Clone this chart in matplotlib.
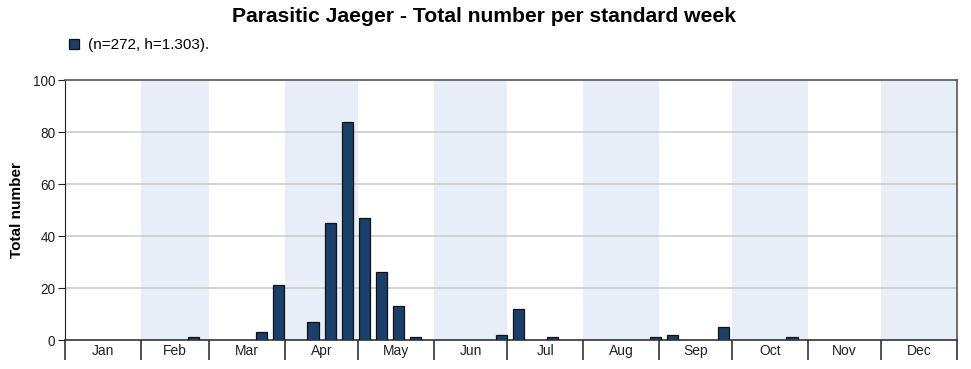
import matplotlib
matplotlib.use("Agg")
import matplotlib.pyplot as plt
import numpy as np

plt.rcParams['font.family'] = ['Liberation Sans', 'DejaVu Sans']

months = ["Jan", "Feb", "Mar", "Apr", "May", "Jun", "Jul", "Aug", "Sep", "Oct", "Nov", "Dec"]
month_days = [31, 28, 31, 30, 31, 30, 31, 31, 30, 31, 30, 31]
# standard week index (0-based, 7-day weeks from Jan 1) and totals
weeks = [7, 11, 12, 14, 15, 16, 17, 18, 19, 20, 25, 26, 28, 34, 35, 38, 42]
totals = [1, 3, 21, 7, 45, 84, 47, 26, 13, 1, 2, 12, 1, 1, 2, 5, 1]
legend_label = "(n=272, h=1.303)."
title = "Parasitic Jaeger - Total number per standard week"

W, H = 971, 369
fig = plt.figure(figsize=(W / 100, H / 100), dpi=100)
ax = fig.add_axes([65 / W, (H - 340) / H, 892 / W, 260 / H])

bounds = np.concatenate([[0], np.cumsum(month_days)])
for i in range(12):
    if i % 2 == 1:
        ax.axvspan(bounds[i], bounds[i + 1], color="#e8eef8", lw=0, zorder=0)

for y in [20, 40, 60, 80]:
    ax.axhline(y, color="#cccccc", lw=1.2, zorder=1)

centers = [7 * w + 3.5 for w in weeks]
bars = ax.bar(centers, totals, width=4.6, color="#1b3f6b", edgecolor="#111111",
              linewidth=0.9, zorder=3, label=legend_label)

ax.set_xlim(0, 365)
ax.set_ylim(0, 100)
ax.set_yticks([0, 20, 40, 60, 80, 100])
ax.tick_params(axis='y', labelsize=9.8, length=5, width=0.8, colors="#222222", pad=2)

ax.set_xticks(bounds)
ax.set_xticklabels([])
ax.tick_params(axis='x', which='major', length=14.5, width=1.2, color="#333333", direction='out')
mid = (bounds[:-1] + bounds[1:]) / 2
ax.set_xticks(mid, minor=True)
ax.set_xticklabels(months, minor=True)
ax.tick_params(axis='x', which='minor', length=0, labelsize=10, pad=3, labelcolor="#222222")

for s in ['top', 'right']:
    ax.spines[s].set_color("#555555")
    ax.spines[s].set_linewidth(1.2)
ax.spines['left'].set_color("#222222")
ax.spines['bottom'].set_color("#333333")
ax.spines['bottom'].set_linewidth(1.2)

ax.set_ylabel("Total number", fontsize=11, fontweight='bold', labelpad=6)

fig.text(484 / W, 1 - 17 / H, title, ha='center', va='center', fontsize=15.2, fontweight='bold')
leg = fig.legend(handles=[bars], labels=[legend_label], loc='center left',
                 bbox_to_anchor=(55 / W, 1 - 45 / H), frameon=False, fontsize=11,
                 handlelength=0.65, handleheight=0.65, handletextpad=0.6)

fig.savefig("out.png", dpi=100)
